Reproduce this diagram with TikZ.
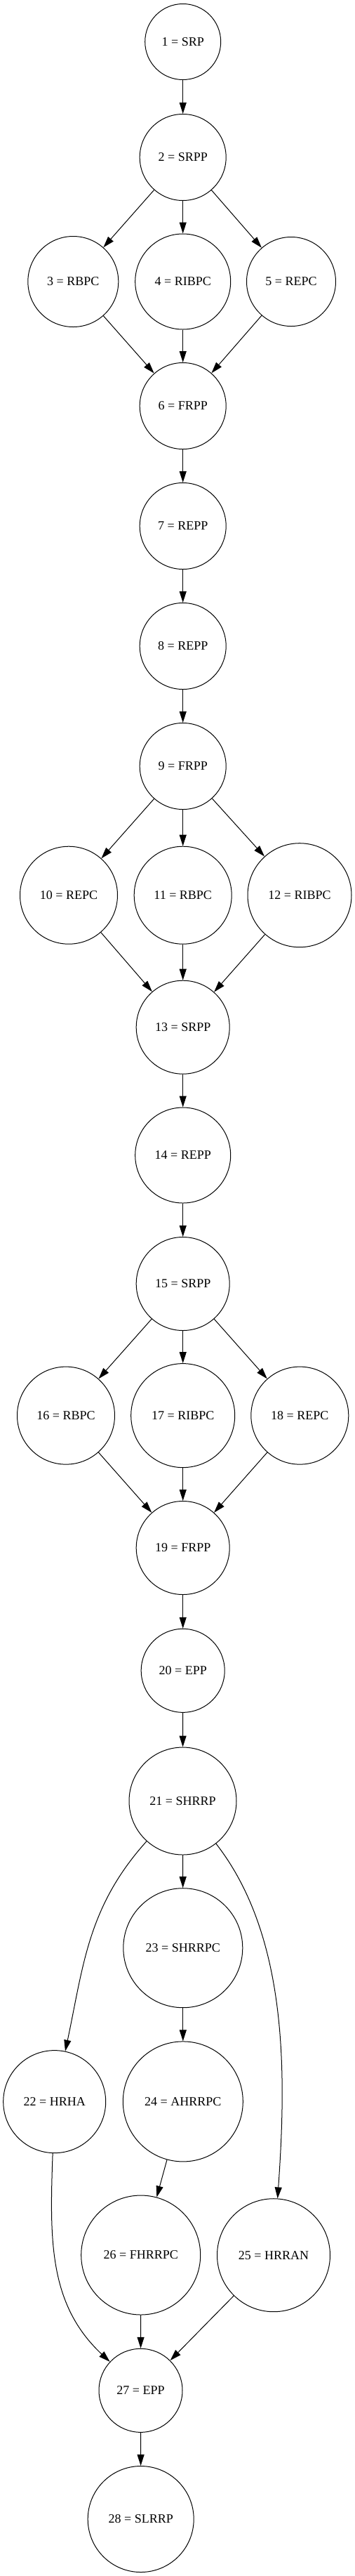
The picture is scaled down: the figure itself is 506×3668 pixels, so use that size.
\documentclass[tikz,border=0pt]{standalone}
\usepackage{fontspec}
\setmainfont{Liberation Serif}
\usepackage{tikz}
\usetikzlibrary{arrows.meta}
\tikzset{
  state/.style={
    circle,
    draw=black, line width=1pt,
    inner sep=0pt,
    font=\fontsize{18}{21}\selectfont
  },
  flow/.style={
    -{Triangle[length=16pt,width=10pt]},
    line width=1pt
  }
}

\begin{document}
\begin{tikzpicture}[x=1pt, y=1pt]

  \useasboundingbox (0,0) rectangle (506,-3668);

  % ── Opening block ─────────────────────────────────────────────────────────
  \node[state, minimum size=108pt] (n1) at (260.7,-59.5)  {1 = SRP};
  \node[state, minimum size=123pt] (n2) at (260.7,-224)   {2 = SRPP};
  \node[state, minimum size=129pt] (n3) at (104.3,-401)   {3 = RBPC};
  \node[state, minimum size=136pt] (n4) at (260.7,-401)   {4 = RIBPC};
  \node[state, minimum size=127pt] (n5) at (415,-401)     {5 = REPC};
  \node[state, minimum size=123pt] (n6) at (260.7,-578)   {6 = FRPP};
  \node[state, minimum size=123pt] (n7) at (260.7,-749)   {7 = REPP};
  \node[state, minimum size=123pt] (n8) at (260.7,-920)   {8 = REPP};

  % ── Second block ──────────────────────────────────────────────────────────
  \node[state, minimum size=123pt] (n9)  at (260.7,-1091)  {9 = FRPP};
  \node[state, minimum size=139pt] (n10) at (98,-1274.7)   {10 = REPC};
  \node[state, minimum size=139pt] (n11) at (260.7,-1274.7) {11 = RBPC};
  \node[state, minimum size=148pt] (n12) at (427,-1274.7)  {12 = RIBPC};
  \node[state, minimum size=133pt] (n13) at (260.7,-1462.7) {13 = SRPP};
  \node[state, minimum size=136pt] (n14) at (260.7,-1645)  {14 = REPP};

  % ── Third block ───────────────────────────────────────────────────────────
  \node[state, minimum size=133pt] (n15) at (260.7,-1828)  {15 = SRPP};
  \node[state, minimum size=139pt] (n16) at (94,-2015.6)   {16 = RBPC};
  \node[state, minimum size=148pt] (n17) at (260.7,-2015.6) {17 = RIBPC};
  \node[state, minimum size=139pt] (n18) at (427.3,-2015.6) {18 = REPC};
  \node[state, minimum size=133pt] (n19) at (260.7,-2204)  {19 = FRPP};
  \node[state, minimum size=119pt] (n20) at (260.7,-2378.8) {20 = EPP};

  % ── Closing block ─────────────────────────────────────────────────────────
  \node[state, minimum size=153pt] (n21) at (260.5,-2564.5) {21 = SHRRP};
  \node[state, minimum size=170pt] (n23) at (260.8,-2773.7) {23 = SHRRPC};
  \node[state, minimum size=146pt] (n22) at (77.7,-2992.6)  {22 = HRHA};
  \node[state, minimum size=171pt] (n24) at (260.8,-2992.4) {24 = AHRRPC};
  \node[state, minimum size=170pt] (n26) at (200.7,-3211)   {26 = FHRRPC};
  \node[state, minimum size=161pt] (n25) at (390,-3211.2)   {25 = HRRAN};
  \node[state, minimum size=119pt] (n27) at (200.5,-3403.8) {27 = EPP};
  \node[state, minimum size=151pt] (n28) at (200.7,-3587)   {28 = SLRRP};

  % ── Straight edges ────────────────────────────────────────────────────────
  \foreach \a/\b in {1/2, 2/3, 2/4, 2/5, 3/6, 4/6, 5/6, 6/7, 7/8, 8/9,
                     9/10, 9/11, 9/12, 10/13, 11/13, 12/13, 13/14, 14/15,
                     15/16, 15/17, 15/18, 16/19, 17/19, 18/19, 19/20, 20/21,
                     21/23, 23/24, 24/26, 26/27, 25/27, 27/28}{
    \draw[flow] (n\a) -- (n\b);
  }

  % ── Bent edges ────────────────────────────────────────────────────────────
  \draw[flow] (n21) to[out=228, in=78] (n22);
  \draw[flow] (n21) to[out=-52, in=86, looseness=0.85] (n25);
  \draw[flow] (n22) to[out=268, in=137] (n27);

\end{tikzpicture}
\end{document}
